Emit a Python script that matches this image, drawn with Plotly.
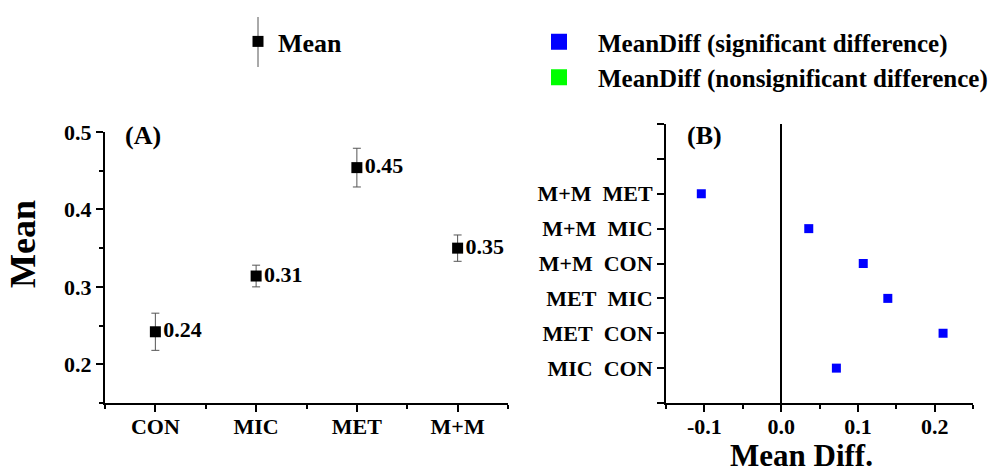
import plotly.graph_objects as go

# ---- data ----
groups = ["CON", "MIC", "MET", "M+M"]
means = [0.242, 0.314, 0.454, 0.350]
sems = [0.024, 0.014, 0.025, 0.017]

pairs = ["MIC  CON", "MET  CON", "MET  MIC", "M+M  CON", "M+M  MIC", "M+M  MET"]
diffs = [0.072, 0.211, 0.139, 0.107, 0.036, -0.104]
significant = [True, True, True, True, True, True]

FONT = "Liberation Serif"
W, H = 998, 475

def px_x(p):
    return p / W

def px_y(p):
    return 1 - p / H

xpos = list(range(1, len(groups) + 1))
ypos = list(range(1, len(pairs) + 1))
pair_labels = [p.replace(" ", "\u00a0") for p in pairs]

fig = go.Figure()

# Panel A: means with error bars
fig.add_trace(go.Scatter(
    x=xpos, y=means, mode="markers+text",
    text=[f"{m:.2f}" for m in means], textposition="middle right",
    textfont=dict(family=FONT, size=22, color="black", weight="bold"),
    marker=dict(symbol="square", size=11, color="black"),
    error_y=dict(type="data", array=sems, visible=True, color="#555555", thickness=1, width=4),
    name="Mean", legend="legend", xaxis="x", yaxis="y", showlegend=True,
))

# Panel B: mean differences
sig_x = [d for d, s in zip(diffs, significant) if s]
sig_y = [y for y, s in zip(ypos, significant) if s]
non_x = [d for d, s in zip(diffs, significant) if not s]
non_y = [y for y, s in zip(ypos, significant) if not s]

fig.add_trace(go.Scatter(
    x=sig_x, y=sig_y, mode="markers",
    marker=dict(symbol="square", size=9, color="#0000FF"),
    xaxis="x2", yaxis="y2", showlegend=False, name="MeanDiff (significant difference)",
))
fig.add_trace(go.Scatter(
    x=non_x, y=non_y, mode="markers",
    marker=dict(symbol="square", size=9, color="#00FF00"),
    xaxis="x2", yaxis="y2", showlegend=False, name="MeanDiff (nonsignificant difference)",
))
# legend entries for panel B
fig.add_trace(go.Scatter(
    x=[None], y=[None], mode="markers",
    marker=dict(symbol="square", size=18, color="#0000FF"),
    xaxis="x2", yaxis="y2", legend="legend2", name="MeanDiff (significant difference)",
))
fig.add_trace(go.Scatter(
    x=[None], y=[None], mode="markers",
    marker=dict(symbol="square", size=18, color="#00FF00"),
    xaxis="x2", yaxis="y2", legend="legend2", name="MeanDiff (nonsignificant difference)",
))

axis_common = dict(
    showline=True, linecolor="black", linewidth=2, showgrid=False, zeroline=False,
    ticks="outside", tickcolor="black", tickwidth=2, ticklen=7, automargin=False,
    tickfont=dict(family=FONT, size=22, color="black", weight="bold"),
)

fig.update_layout(
    width=W, height=H,
    margin=dict(l=0, r=0, t=0, b=0),
    paper_bgcolor="white", plot_bgcolor="white",
    font=dict(family=FONT, color="black", weight="bold"),
    xaxis=dict(
        domain=[px_x(105), px_x(508)], range=[0.5, 4.5],
        tickmode="array", tickvals=xpos, ticktext=groups, ticklabelstandoff=-4,
        minor=dict(ticks="outside", tick0=0.5, dtick=0.5, ticklen=4, tickwidth=2, tickcolor="black"),
        anchor="y", **axis_common,
    ),
    yaxis=dict(
        domain=[px_y(403), px_y(132)], range=[0.15, 0.5],
        tickmode="array", tickvals=[0.2, 0.3, 0.4, 0.5],
        minor=dict(ticks="outside", tick0=0.15, dtick=0.05, ticklen=4, tickwidth=2, tickcolor="black"),
        anchor="x", **axis_common,
    ),
    xaxis2=dict(
        domain=[px_x(666), px_x(973)], range=[-0.15, 0.25],
        tickmode="array", tickvals=[-0.1, 0.0, 0.1, 0.2], ticktext=["-0.1", "0.0", "0.1", "0.2"],
        ticklabelstandoff=-4,
        minor=dict(ticks="outside", tick0=-0.15, dtick=0.05, ticklen=4, tickwidth=2, tickcolor="black"),
        anchor="y2", **{**axis_common, "zeroline": True},
        zerolinecolor="black", zerolinewidth=2,
    ),
    yaxis2=dict(
        domain=[px_y(403), px_y(124)], range=[0, len(pairs) + 2],
        tickmode="array", tickvals=list(range(0, len(pairs) + 3)),
        ticktext=[""] + pair_labels + ["", ""],
        anchor="x2", **axis_common,
    ),
    legend=dict(
        x=px_x(238), y=px_y(18), xanchor="left", yanchor="top",
        font=dict(family=FONT, size=26, color="black", weight="bold"),
        bgcolor="rgba(0,0,0,0)",
    ),
    legend2=dict(
        x=px_x(520), y=px_y(19), xanchor="left", yanchor="top",
        font=dict(family=FONT, size=25, color="black", weight="bold"),
        bgcolor="rgba(0,0,0,0)", itemwidth=68,
    ),
    shapes=[
        # vertical error-bar glyph of the "Mean" legend key
        dict(type="line", xref="paper", yref="paper",
             x0=px_x(258), x1=px_x(258), y0=px_y(17), y1=px_y(67),
             line=dict(color="#555555", width=1), layer="below"),
    ],
    annotations=[
        dict(text="Mean", xref="paper", yref="paper", x=px_x(23), y=px_y(244),
             xanchor="center", yanchor="middle",
             textangle=-90, showarrow=False, font=dict(family=FONT, size=36, weight="bold")),
        dict(text="Mean Diff.", xref="paper", yref="paper", x=px_x(801), y=0,
             xanchor="center", yanchor="bottom",
             showarrow=False, font=dict(family=FONT, size=31, weight="bold")),
        dict(text="(A)", xref="paper", yref="paper", x=px_x(143), y=px_y(135),
             xanchor="center", yanchor="middle",
             showarrow=False, font=dict(family=FONT, size=26, weight="bold")),
        dict(text="(B)", xref="paper", yref="paper", x=px_x(704), y=px_y(135),
             xanchor="center", yanchor="middle",
             showarrow=False, font=dict(family=FONT, size=26, weight="bold")),
    ],
)

fig.write_html("out.html")
